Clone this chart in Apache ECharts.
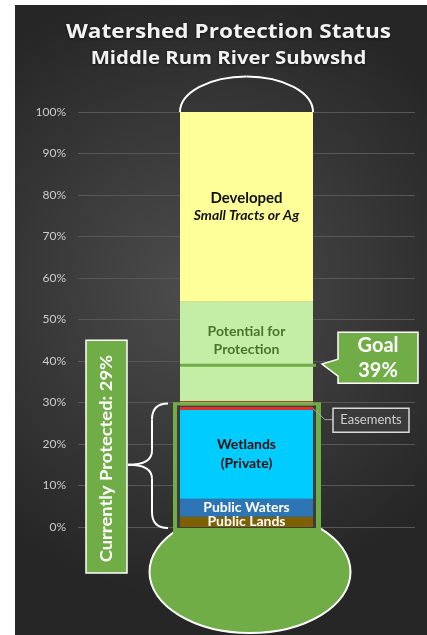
<!DOCTYPE html>
<html>
<head>
<meta charset="utf-8">
<title>Watershed Protection Status</title>
<script src="https://cdn.jsdelivr.net/npm/echarts@6/dist/echarts.min.js"></script>
<style>
  html, body { margin: 0; padding: 0; background: #fff; }
  #chart { position: absolute; left: 15px; top: 5px; width: 412px; height: 630px; }
</style>
</head>
<body>
<div id="chart"></div>
<script>
// values in % of the subwatershed, stacked bottom -> top
const categories = ["Middle Rum River"];
const publicLands = [2.5];
const publicWaters = [4.3];
const wetlands = [21.4];
const easements = [0.8];
const potential = [25.3];
const developed = [45.7];
const goal = 39;
const protectedPct = 29;

const FONT = "Lato";
const TITLE_FONT = "'Open Sans'";
const GREEN = "#70ad47";
const BAR_W = 133;

const chart = echarts.init(document.getElementById("chart"));

const bar = (name, data, color, label) => ({
  name,
  type: "bar",
  stack: "total",
  data,
  barWidth: BAR_W,
  z: 2,
  itemStyle: { color },
  label: label || { show: false }
});

chart.setOption({
  animation: false,
  backgroundColor: {
    type: "radial",
    x: 0.45, y: 0.45, r: 0.75,
    colorStops: [
      { offset: 0, color: "#4d4d4d" },
      { offset: 1, color: "#262626" }
    ]
  },
  grid: { left: 63, right: 12, top: 107, bottom: 108 },
  xAxis: {
    type: "category",
    data: categories,
    axisLine: { show: false },
    axisTick: { show: false },
    axisLabel: { show: false }
  },
  yAxis: {
    type: "value",
    min: 0,
    max: 100,
    interval: 10,
    axisLine: { show: false },
    axisTick: { show: false },
    axisLabel: {
      formatter: "{value}%",
      color: "#cccccc",
      fontFamily: FONT,
      fontSize: 12,
      margin: 12
    },
    splitLine: { lineStyle: { color: "#575757", width: 1 } }
  },
  series: [
    bar("Public Lands", publicLands, "#7f6000", {
      show: true, position: "inside", formatter: "Public Lands",
      color: "#fff", fontFamily: FONT, fontWeight: "bold", fontSize: 14
    }),
    bar("Public Waters", publicWaters, "#2e75b6", {
      show: true, position: "inside", formatter: "Public Waters",
      color: "#fff", fontFamily: FONT, fontWeight: "bold", fontSize: 14
    }),
    bar("Wetlands", wetlands, "#00ccff", {
      show: true, position: "inside", formatter: "Wetlands\n(Private)",
      color: "#111", fontFamily: FONT, fontWeight: "bold", fontSize: 14, lineHeight: 19
    }),
    bar("Easements", easements, "#e0312b"),
    bar("Potential", potential, "#c4eea6", {
      show: true, position: "inside", offset: [0, -14],
      formatter: "Potential for\nProtection",
      color: "#4a742c", fontFamily: FONT, fontWeight: "bold", fontSize: 14, lineHeight: 18
    }),
    bar("Developed", developed, "#ffff99", {
      show: true, position: "inside",
      formatter: "{a|Developed}\n{b|Small Tracts or Ag}",
      rich: {
        a: { color: "#111", fontFamily: FONT, fontWeight: "bold", fontSize: 15, lineHeight: 18 },
        b: { color: "#111", fontFamily: FONT, fontWeight: "bold", fontStyle: "italic", fontSize: 14, lineHeight: 18 }
      }
    })
  ]
});

// quadratic curve helper for the graphic component
const quad = (x1, y1, cx, cy, x2, y2, z) => ({
  type: "bezierCurve", z,
  shape: { x1, y1, x2, y2, cpx1: cx, cpy1: cy },
  style: { stroke: "#fff", lineWidth: 2, fill: null }
});
const seg = (x1, y1, x2, y2, z) => ({
  type: "line", z,
  shape: { x1, y1, x2, y2 },
  style: { stroke: "#fff", lineWidth: 2 }
});

function decorations() {
  const cx = chart.convertToPixel({ xAxisIndex: 0 }, 0);
  const yOf = v => chart.convertToPixel({ yAxisIndex: 0 }, v);
  const xL = cx - BAR_W / 2;
  const xR = cx + BAR_W / 2;
  const y0 = yOf(0);
  const y100 = yOf(100);
  const yBox = yOf(30);
  const yGoal = yOf(goal);
  const yEase = yOf(publicLands[0] + publicWaters[0] + wetlands[0] + easements[0]);
  const yTopLabel = yOf(45);
  const yMid = (yBox + y0) / 2;
  const bx = xL - 28;
  const rx = BAR_W / 2, ry = 35.5, k = 0.5523;

  return [
    // titles (stretched a little to mimic the spaced-out lettering)
    {
      type: "text", x: 213.5, y: 27, z: 5, scaleX: 1.13,
      style: {
        text: "Watershed Protection Status", fill: "#f2f2f2",
        font: "bold 20px " + TITLE_FONT, textAlign: "center", textVerticalAlign: "middle",
        textShadowColor: "rgba(0,0,0,0.6)", textShadowBlur: 3, textShadowOffsetY: 1
      }
    },
    {
      type: "text", x: 213.5, y: 54, z: 5, scaleX: 1.13,
      style: {
        text: "Middle Rum River Subwshd", fill: "#f2f2f2",
        font: "bold 18px " + TITLE_FONT, textAlign: "center", textVerticalAlign: "middle",
        textShadowColor: "rgba(0,0,0,0.6)", textShadowBlur: 3, textShadowOffsetY: 1
      }
    },
    // thermometer top (half ellipse, two cubic quarters)
    {
      type: "bezierCurve", z: 1,
      shape: { x1: xL, y1: y100, cpx1: xL, cpy1: y100 - k * ry, cpx2: cx - k * rx, cpy2: y100 - ry, x2: cx, y2: y100 - ry },
      style: { stroke: "#fff", lineWidth: 2, fill: null }
    },
    {
      type: "bezierCurve", z: 1,
      shape: { x1: cx, y1: y100 - ry, cpx1: cx + k * rx, cpy1: y100 - ry, cpx2: xR, cpy2: y100 - k * ry, x2: xR, y2: y100 },
      style: { stroke: "#fff", lineWidth: 2, fill: null }
    },
    // bulb
    {
      type: "ellipse", z: 1,
      shape: { cx: cx + 3.5, cy: y0 + 45, rx: 100.5, ry: 61 },
      style: { fill: GREEN, stroke: "#fff", lineWidth: 2 }
    },
    {
      type: "rect", z: 1.1,
      shape: { x: xL - 7, y: yBox, width: BAR_W + 15, height: y0 + 14 - yBox },
      style: { fill: GREEN }
    },
    {
      type: "rect", z: 1.2,
      shape: { x: xL - 3, y: yBox + 3, width: BAR_W + 6, height: y0 + 1 - yBox - 3 },
      style: { fill: "#3d3d3d" }
    },
    // box top edge over the bars
    {
      type: "rect", z: 3,
      shape: { x: xL, y: yBox - 1.5, width: BAR_W, height: 1.3 },
      style: { fill: "#9a4a1c" }
    },
    {
      type: "rect", z: 3,
      shape: { x: xL - 7, y: yBox, width: BAR_W + 15, height: 3 },
      style: { fill: GREEN }
    },
    {
      type: "rect", z: 3,
      shape: { x: xL - 3, y: yBox + 3, width: BAR_W + 6, height: 1.5 },
      style: { fill: "#3d3d3d" }
    },
    // goal line + callout
    {
      type: "line", z: 3,
      shape: { x1: xL, y1: yGoal, x2: xR + 3, y2: yGoal },
      style: { stroke: GREEN, lineWidth: 3 }
    },
    {
      type: "polygon", z: 4,
      shape: {
        points: [
          [xR + 25, yGoal - 33], [xR + 105, yGoal - 33], [xR + 105, yGoal + 18],
          [xR + 25, yGoal + 18], [xR + 25, yGoal + 11], [xR + 9, yGoal - 1], [xR + 25, yGoal - 6]
        ]
      },
      style: { fill: GREEN, stroke: "#fff", lineWidth: 1.5 }
    },
    {
      type: "text", x: xR + 65, y: yGoal - 7.5, z: 5,
      style: {
        text: "Goal\n" + goal + "%", fill: "#fff", font: "bold 20px " + FONT,
        lineHeight: 25, textAlign: "center", textVerticalAlign: "middle"
      }
    },
    // easements callout
    {
      type: "polyline", z: 4,
      shape: { points: [[xR, yEase + 2], [xR + 12, yEase + 13], [xR + 20, yEase + 13]] },
      style: { stroke: "#a6a6a6", lineWidth: 1, fill: null }
    },
    {
      type: "rect", z: 4,
      shape: { x: xR + 20, y: yEase + 1.5, width: 76, height: 24 },
      style: { fill: "#3a3a3a", stroke: "#d9d9d9", lineWidth: 1.5 }
    },
    {
      type: "text", x: xR + 58, y: yEase + 13.5, z: 5,
      style: {
        text: "Easements", fill: "#d0d0d0", font: "13px " + FONT,
        textAlign: "center", textVerticalAlign: "middle"
      }
    },
    // brace
    quad(xL - 12, yBox + 1, bx, yBox + 1, bx, yBox + 17, 3),
    seg(bx, yBox + 17, bx, yMid - 14, 3),
    quad(bx, yMid - 14, bx, yMid, xL - 52, yMid, 3),
    quad(xL - 52, yMid, bx, yMid, bx, yMid + 14, 3),
    seg(bx, yMid + 14, bx, y0 - 15, 3),
    quad(bx, y0 - 15, bx, y0 + 1, xL - 12, y0 + 1, 3),
    // currently protected box
    {
      type: "rect", z: 4,
      shape: { x: xL - 94, y: yTopLabel, width: 41, height: y0 + 46 - yTopLabel },
      style: { fill: GREEN, stroke: "#fff", lineWidth: 1.5 }
    },
    {
      type: "text", x: xL - 73.5, y: (yTopLabel + y0 + 46) / 2 + 2, z: 5,
      rotation: Math.PI / 2, scaleX: 1.08,
      style: {
        text: "Currently Protected: " + protectedPct + "%", fill: "#fff",
        font: "bold 17px " + FONT, textAlign: "center", textVerticalAlign: "middle"
      }
    }
  ];
}

chart.setOption({ graphic: decorations() });
</script>
</body>
</html>
